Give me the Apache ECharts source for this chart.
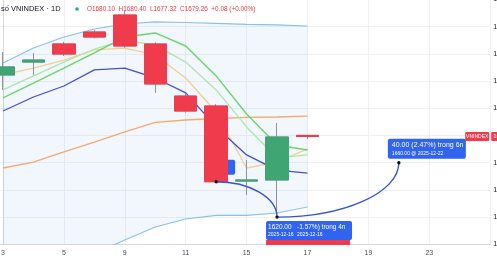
<!DOCTYPE html>
<html><head><meta charset="utf-8">
<script src="https://cdn.jsdelivr.net/npm/echarts@6/dist/echarts.min.js"></script>
<style>html,body{margin:0;padding:0;background:#fff}#c{width:497px;height:261px}</style>
</head><body><div id="c"></div>
<script>
// ---- data (VNINDEX, 1D, Dec 2025) ----
const dayLabels = ['3','4','5','8','9','10','11','12','15','16','17','18','19','22','23','24','25'];
const opens  = [1724.5, 1734.0, 1747.3, 1756.1, 1768.6, 1747.3, 1709.0, 1701.7, 1646.5, 1647.3, 1680.10];
const closes = [1730.4, 1735.5, 1739.9, 1752.4, 1745.8, 1717.9, 1698.0, 1646.0, 1647.3, 1678.9, 1679.26];
const lows   = [1713.5, 1724.5, 1738.5, 1751.5, 1744.5, 1711.3, 1696.8, 1645.8, 1636.3, 1620.1, 1677.32];
const highs  = [1741.4, 1740.7, 1748.8, 1757.5, 1772.0, 1748.5, 1710.5, 1703.0, 1662.0, 1689.2, 1680.40];
const bbUpper = [1733.3, 1744.3, 1752.4, 1758.3, 1762.0, 1763.5, 1763.1, 1762.4, 1761.7, 1761.3, 1760.5];
const bbLower = [1579.0, 1577.0, 1583.0, 1593.0, 1603.2, 1612.7, 1618.6, 1621.2, 1621.2, 1623.0, 1627.4];
const bbBasis = [1656.1, 1660.5, 1667.9, 1675.2, 1682.6, 1689.6, 1691.4, 1692.5, 1693.3, 1693.6, 1694.3];
const maPurple = [1698.0, 1708.3, 1716.4, 1728.2, 1729.6, 1722.3, 1711.3, 1686.3, 1665.7, 1654.6, 1652.4];
const maGreen  = [1707.6, 1718.6, 1729.6, 1740.7, 1752.4, 1755.4, 1745.8, 1723.8, 1695.8, 1673.0, 1669.3];
const maLightGreen = [1713.5, 1723.8, 1734.0, 1743.6, 1750.2, 1746.5, 1734.0, 1713.5, 1686.3, 1663.5, 1665.7];
const maPeach  = [1724.5, 1729.6, 1735.5, 1742.9, 1744.3, 1739.2, 1722.3, 1697.3, 1656.1, 1660.5, 1670.1];
const forecastDays = ['12', '16', '22'];
const forecastValues = [1646.0, 1620.0, 1660.0];
const forecastTexts = [
  null,
  ['1620.00', '-1.57%) trong 4n', '2025-12-16', '2025-12-16'],
  ['40.00 (2.47%) trong 6n', '1660.00 @ 2025-12-22']
];
const priceMin = 1600, priceMax = 1780, priceStep = 20;
const headerTitle = 'số VNINDEX · 1D';
const headerOHLC = 'O1680.10  H1680.40  L1677.32  C1679.26  +0.08 (+0.00%)';

// ---- build ----
const UP = '#3fa573', DOWN = '#ef3b4b', WICK = '#8d929c';
const FONT = '"Liberation Sans", Arial, sans-serif';
const idx = opens.map((_, i) => i);
const full = idx.map(i => [i, opens[i], closes[i], lows[i], highs[i]]);
const bodies = idx.map(i => [i, opens[i], closes[i], Math.min(opens[i], closes[i]), Math.max(opens[i], closes[i])]);
const pairs = arr => arr.map((v, i) => [i, v]);
const line = (name, arr, color, w, z) => ({
  name, type: 'line', data: pairs(arr), symbol: 'none', smooth: false,
  lineStyle: { color, width: w || 1.3 }, z: z || 3, silent: true
});

const chart = echarts.init(document.getElementById('c'), null, { renderer: 'canvas' });
const option = {
  animation: false,
  backgroundColor: '#ffffff',
  grid: { left: -57.9, right: 6.8, top: -0.5, bottom: 16.7, outerBoundsMode: 'none' },
  xAxis: {
    type: 'value', min: -2, max: 16, interval: 2,
    axisLine: { show: true, lineStyle: { color: '#d4d7de', width: 1 } },
    axisTick: { show: false },
    splitLine: { show: true, lineStyle: { color: '#eef0f4', width: 1 } },
    axisLabel: {
      fontSize: 7, color: '#4a4e5a', margin: 5, fontFamily: FONT,
      formatter: v => (Number.isInteger(v) && v >= 0 && v < 16 ? dayLabels[v] : '')
    }
  },
  yAxis: {
    type: 'value', position: 'right', min: priceMin, max: priceMax, interval: priceStep,
    axisLine: { show: true, lineStyle: { color: '#d4d7de', width: 1 } },
    axisTick: { show: false },
    splitLine: { show: true, lineStyle: { color: '#eef0f4', width: 1 } },
    axisLabel: { fontSize: 7, color: '#131722', margin: 3, fontFamily: FONT, formatter: v => v.toFixed(2) }
  },
  series: [
    { name: 'bbFill', type: 'custom', clip: true, z: 1, silent: true, data: [[0, bbBasis[0]]],
      renderItem: (params, api) => {
        const top = bbUpper.map((v, i) => api.coord([i, v]));
        const bot = bbLower.map((v, i) => api.coord([i, v])).reverse();
        return { type: 'polygon', shape: { points: top.concat(bot) }, style: { fill: 'rgba(40,140,230,0.065)' } };
      } },
    line('bbLower', bbLower, '#8cc0e8', 1.2, 2),
    line('bbUpper', bbUpper, '#8cc0e8', 1.2, 2),
    line('basis', bbBasis, '#f5a96a', 1.3, 3),
    line('peach', maPeach, '#f3cf8f', 1.3, 3),
    line('lightgreen', maLightGreen, '#aee6a8', 1.3, 3),
    line('green', maGreen, '#6fd46a', 1.4, 3),
    line('purple', maPurple, '#4a4fc4', 1.3, 3),
    { name: 'wicks', type: 'candlestick', data: full, barWidth: 23, z: 5,
      itemStyle: { color: UP, color0: DOWN, borderColor: WICK, borderColor0: WICK, borderWidth: 1 } },
    { name: 'bodies', type: 'candlestick', data: bodies, barWidth: 23, z: 6,
      itemStyle: { color: UP, color0: DOWN, borderColor: UP, borderColor0: DOWN, borderWidth: 1 } }
  ]
};
chart.setOption(option);

// ---- annotations positioned through the chart's own scales ----
const px = (i, v) => chart.convertToPixel({ gridIndex: 0 }, [i, v]);
const pts = forecastDays.map((d, k) => px(dayLabels.indexOf(d), forecastValues[k]));
const g = [];
const BLUE = '#2f63f0';
// start label partially hidden behind the Dec 12 candle
g.push({ type: 'rect', z: 1, shape: { x: pts[0][0] - 6, y: pts[0][1] - 22, width: 25, height: 15, r: 2 }, style: { fill: BLUE } });
for (let k = 0; k < pts.length - 1; k++) {
  const a = pts[k], b = pts[k + 1];
  const K = 0.552;
  g.push({ type: 'bezierCurve', z: 60,
    shape: { x1: a[0], y1: a[1], x2: b[0], y2: b[1],
      cpx1: a[0] + (b[0] - a[0]) * K, cpy1: a[1],
      cpx2: b[0], cpy2: b[1] + (a[1] - b[1]) * K },
    style: { stroke: '#3457d0', lineWidth: 1.4, fill: null } });
}
pts.forEach(p => g.push({ type: 'circle', z: 62, shape: { cx: p[0], cy: p[1], r: 1.7 }, style: { fill: '#111' } }));
// label for point 2 (below)
{
  const p = pts[1], t = forecastTexts[1];
  g.push({ type: 'rect', z: 63, shape: { x: p[0] - 11, y: p[1] + 23, width: 84, height: 5 }, style: { fill: '#ef3b4b' } });
  g.push({ type: 'rect', z: 64, shape: { x: p[0] - 11, y: p[1] + 4, width: 86, height: 19, r: 2 }, style: { fill: BLUE } });
  g.push({ type: 'text', z: 65, style: { x: p[0] - 9, y: p[1] + 10, text: t[0], fill: '#fff', font: '6.5px ' + FONT, verticalAlign: 'middle' } });
  g.push({ type: 'text', z: 65, style: { x: p[0] + 20, y: p[1] + 10, text: t[1], fill: '#fff', font: '6.5px ' + FONT, verticalAlign: 'middle' } });
  g.push({ type: 'text', z: 65, style: { x: p[0] - 9, y: p[1] + 18, text: t[2], fill: '#fff', font: '5px ' + FONT, verticalAlign: 'middle' } });
  g.push({ type: 'text', z: 65, style: { x: p[0] + 20, y: p[1] + 18, text: t[3], fill: '#fff', font: '5px ' + FONT, verticalAlign: 'middle' } });
}
// label for point 3 (above)
{
  const p = pts[2], t = forecastTexts[2];
  g.push({ type: 'rect', z: 64, shape: { x: p[0] - 11, y: p[1] - 24, width: 78, height: 20, r: 2 }, style: { fill: BLUE } });
  g.push({ type: 'text', z: 65, style: { x: p[0] - 7, y: p[1] - 18, text: t[0], fill: '#fff', font: '7px ' + FONT, verticalAlign: 'middle' } });
  g.push({ type: 'text', z: 65, style: { x: p[0] - 7, y: p[1] - 9.5, text: t[1], fill: '#fff', font: '5px ' + FONT, verticalAlign: 'middle' } });
}
// last price tag
{
  const last = closes.length - 1;
  const p = px(last, closes[last]);
  const right = px(16, closes[last])[0];
  g.push({ type: 'rect', z: 70, shape: { x: right - 25, y: p[1] - 4.5, width: 24, height: 9, r: 1 }, style: { fill: '#ef3b4b' } });
  g.push({ type: 'text', z: 71, style: { x: right - 13, y: p[1], text: 'VNINDEX', fill: '#fff', font: '5px ' + FONT, align: 'center', verticalAlign: 'middle' } });
  g.push({ type: 'rect', z: 70, shape: { x: right + 1, y: p[1] - 4.5, width: 40, height: 9, r: 1 }, style: { fill: '#ef3b4b' } });
  g.push({ type: 'text', z: 71, style: { x: right + 3, y: p[1], text: closes[last].toFixed(2), fill: '#fff', font: '6px ' + FONT, verticalAlign: 'middle' } });
}
// header
g.push({ type: 'text', z: 80, style: { x: 1, y: 9, text: headerTitle, fill: '#131722', font: '7.5px ' + FONT, verticalAlign: 'middle' } });
g.push({ type: 'circle', z: 80, shape: { cx: 77, cy: 9, r: 1.8 }, style: { fill: '#22ab94' } });
g.push({ type: 'text', z: 80, style: { x: 87, y: 9, text: headerOHLC, fill: '#f23645', font: '6.4px ' + FONT, verticalAlign: 'middle' } });
chart.setOption({ graphic: { elements: g } });
</script></body></html>
